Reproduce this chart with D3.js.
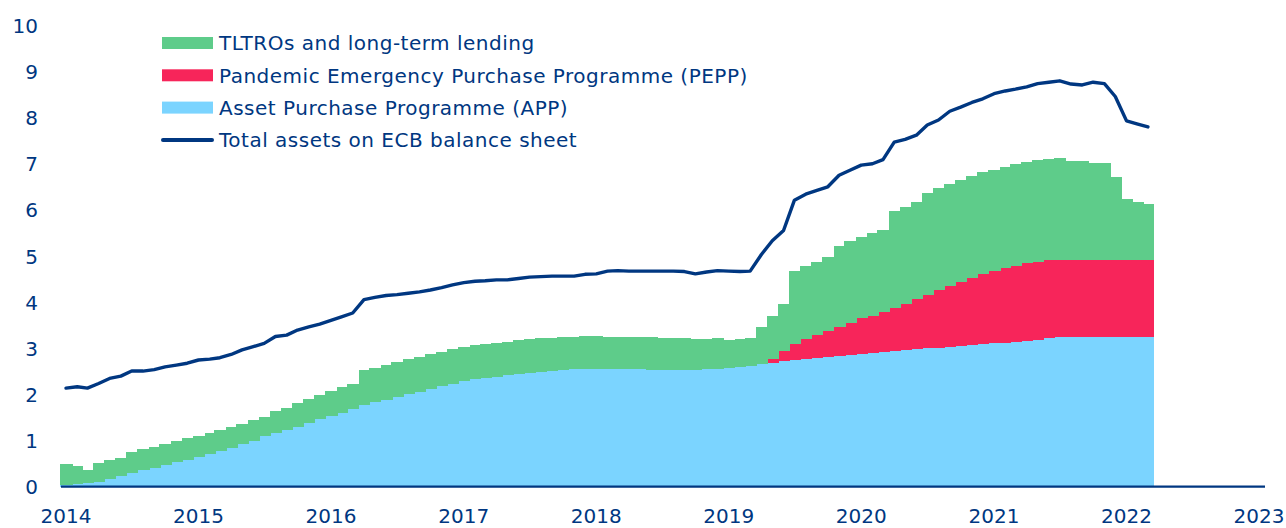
<!DOCTYPE html>
<html>
<head>
<meta charset="utf-8">
<title>ECB balance sheet</title>
<script src="https://d3js.org/d3.v7.min.js"></script>
<style>
  body { margin: 0; background: #fff; }
  text { font-family: "DejaVu Sans", sans-serif; fill: #003781; }
</style>
</head>
<body>
<div id="chart"></div>
<script>
// monthly, Jan 2014 .. Mar 2022 (as labelled on the picture)
var months = d3.timeMonth.range(new Date(2014, 0, 1), new Date(2022, 3, 1));

var app = [0.04,0.05,0.07,0.11,0.17,0.24,0.30,0.36,0.41,0.47,0.54,0.59,0.65,0.72,0.77,0.83,0.92,1.00,1.09,1.17,
  1.23,1.30,1.39,1.48,1.53,1.61,1.69,1.77,1.83,1.88,1.95,2.01,2.06,2.12,2.19,2.24,2.29,2.33,2.36,2.39,
  2.42,2.45,2.47,2.50,2.51,2.53,2.55,2.55,2.56,2.55,2.55,2.55,2.55,2.54,2.54,2.54,2.54,2.54,2.55,2.55,
  2.57,2.59,2.62,2.66,2.69,2.73,2.76,2.77,2.80,2.82,2.84,2.86,2.89,2.90,2.93,2.94,2.96,2.98,3.00,3.02,
  3.04,3.05,3.07,3.09,3.11,3.12,3.14,3.16,3.19,3.23,3.25,3.25,3.24,3.24,3.24,3.24,3.24,3.24,3.24];

var pepp = [0,0,0,0,0,0,0,0,0,0,0,0,0,0,0,0,0,0,0,0,
  0,0,0,0,0,0,0,0,0,0,0,0,0,0,0,0,0,0,0,0,
  0,0,0,0,0,0,0,0,0,0,0,0,0,0,0,0,0,0,0,0,
  0,0,0,0,0.09,0.22,0.34,0.43,0.49,0.56,0.63,0.70,0.77,0.81,0.86,0.94,1.01,1.09,1.16,1.25,
  1.32,1.39,1.45,1.53,1.57,1.62,1.65,1.69,1.69,1.69,1.68,1.68,1.68,1.68,1.68,1.67,1.67,1.67,1.67];

var tltro = [0.45,0.40,0.29,0.41,0.41,0.39,0.46,0.45,0.46,0.46,0.45,0.46,0.46,0.45,0.46,0.46,0.44,0.45,0.43,0.48,
  0.47,0.51,0.51,0.50,0.55,0.55,0.55,0.76,0.75,0.76,0.76,0.76,0.76,0.75,0.74,0.75,0.75,0.74,0.74,0.74,
  0.73,0.73,0.73,0.72,0.72,0.72,0.71,0.73,0.72,0.71,0.71,0.71,0.70,0.71,0.69,0.69,0.68,0.66,0.66,0.67,
  0.61,0.61,0.60,0.81,0.92,1.01,1.59,1.59,1.59,1.60,1.75,1.77,1.77,1.79,1.79,2.10,2.11,2.11,2.22,2.22,
  2.20,2.21,2.22,2.21,2.19,2.21,2.21,2.20,2.21,2.20,2.20,2.14,2.14,2.11,2.11,1.82,1.33,1.28,1.23];

var total = [2.14,2.17,2.14,2.24,2.35,2.40,2.51,2.51,2.54,2.60,2.64,2.68,2.75,2.77,2.80,2.87,2.97,3.04,3.11,3.26,
  3.29,3.40,3.47,3.53,3.61,3.69,3.77,4.06,4.11,4.15,4.17,4.20,4.23,4.27,4.32,4.38,4.43,4.46,4.47,4.49,
  4.49,4.52,4.55,4.56,4.57,4.57,4.57,4.61,4.62,4.68,4.69,4.68,4.68,4.68,4.68,4.68,4.67,4.62,4.66,4.69,
  4.68,4.67,4.68,5.04,5.34,5.56,6.22,6.35,6.43,6.51,6.76,6.87,6.98,7.01,7.10,7.48,7.54,7.63,7.85,7.96,
  8.15,8.24,8.34,8.42,8.53,8.59,8.63,8.68,8.75,8.78,8.81,8.74,8.72,8.78,8.75,8.47,7.94,7.87,7.81];

var yTicks = [0,1,2,3,4,5,6,7,8,9,10];
var xTicks = [2014,2015,2016,2017,2018,2019,2020,2021,2022,2023];

var seriesKeys = ["app", "pepp", "tltro"];
var seriesColor = { app: "#7BD4FF", pepp: "#F7255A", tltro: "#5ECC8A" };
var legendItems = [
  { label: "TLTROs and long-term lending", key: "tltro" },
  { label: "Pandemic Emergency Purchase Programme (PEPP)", key: "pepp" },
  { label: "Asset Purchase Programme (APP)", key: "app" },
  { label: "Total assets on ECB balance sheet", key: "line" }
];

var width = 1286, height = 528;
var navy = "#003781";

var svg = d3.select("#chart").append("svg")
  .attr("width", width).attr("height", height);

var x = d3.scaleTime()
  .domain([new Date(2014, 0, 1), new Date(2023, 0, 1)])
  .range([66, 1259]);
var y = d3.scaleLinear().domain([0, 10]).range([486.7, 26]);

var rows = months.map(function(m, i) {
  return { date: m, app: app[i], pepp: pepp[i], tltro: tltro[i], total: total[i] };
});
var stacked = d3.stack().keys(seriesKeys)(rows);

function barW(d) {
  return x(d3.timeMonth.offset(d.data.date, 1)) - x(d.data.date);
}

// stacked monthly bars (overlap a little so no seams show)
svg.append("g")
  .attr("shape-rendering", "crispEdges")
  .selectAll("g")
  .data(stacked).enter().append("g")
  .attr("fill", function(s) { return seriesColor[s.key]; })
  .selectAll("rect")
  .data(function(s) { return s; }).enter().append("rect")
  .attr("x", function(d) { return x(d.data.date) - barW(d) / 2; })
  .attr("width", function(d, i, n) { return barW(d) + (i < n.length - 1 ? 1 : 0); })
  .attr("y", function(d) { return y(d[1]); })
  .attr("height", function(d) { return Math.max(0, y(d[0]) - y(d[1])); });

// baseline
svg.append("line")
  .attr("x1", 61).attr("x2", 1265)
  .attr("y1", y(0)).attr("y2", y(0))
  .attr("stroke", navy).attr("stroke-width", 2.2);

// total line
var line = d3.line()
  .x(function(d) { return x(d.date); })
  .y(function(d) { return y(d.total); });
svg.append("path")
  .datum(rows)
  .attr("d", line)
  .attr("fill", "none")
  .attr("stroke", navy)
  .attr("stroke-width", 3.4)
  .attr("stroke-linejoin", "round")
  .attr("stroke-linecap", "round");

// y labels
svg.append("g").selectAll("text")
  .data(yTicks).enter().append("text")
  .attr("x", 38)
  .attr("y", function(d) { return y(d); })
  .attr("dy", "0.36em")
  .attr("text-anchor", "end")
  .attr("font-size", "20px")
  .text(function(d) { return d; });

// x labels
svg.append("g").selectAll("text")
  .data(xTicks).enter().append("text")
  .attr("x", function(d) { return x(new Date(d, 0, 1)); })
  .attr("y", 523)
  .attr("text-anchor", "middle")
  .attr("font-size", "20px")
  .text(function(d) { return d; });

// legend
var lg = svg.append("g").attr("transform", "translate(162,43)");
var item = lg.selectAll("g")
  .data(legendItems).enter().append("g")
  .attr("transform", function(d, i) { return "translate(0," + (i * 32.3) + ")"; });
item.filter(function(d) { return d.key !== "line"; })
  .append("rect")
  .attr("x", 0).attr("y", -6).attr("width", 51).attr("height", 12)
  .attr("fill", function(d) { return seriesColor[d.key]; });
item.filter(function(d) { return d.key === "line"; })
  .append("line")
  .attr("x1", 1).attr("x2", 50).attr("y1", 0).attr("y2", 0)
  .attr("stroke", navy).attr("stroke-width", 4).attr("stroke-linecap", "round");
item.append("text")
  .attr("x", 57)
  .attr("dy", "0.36em")
  .attr("font-size", "20px")
  .attr("letter-spacing", "0.5px")
  .text(function(d) { return d.label; });
</script>
</body>
</html>
